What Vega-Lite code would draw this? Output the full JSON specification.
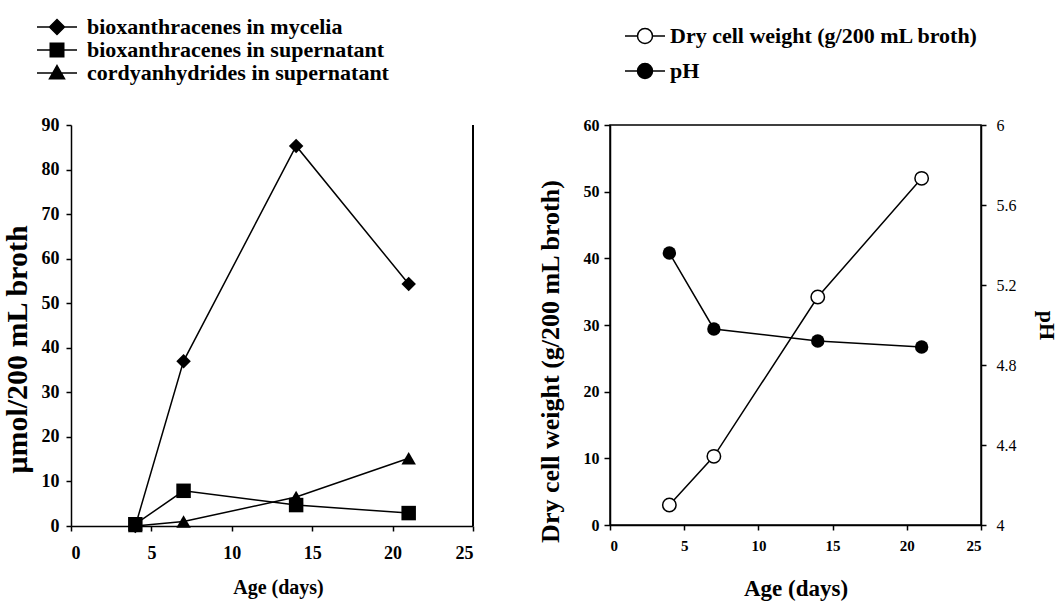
{
  "$schema": "https://vega.github.io/schema/vega-lite/v6.json",
  "background": "white",
  "padding": {"left": 2, "top": 16, "right": 0, "bottom": 0},
  "config": {
    "font": "Liberation Serif",
    "view": {"stroke": null},
    "axis": {
      "domainColor": "black", "domainWidth": 1.5, "tickColor": "black", "tickWidth": 1.5,
      "labelColor": "black", "titleColor": "black", "labelFontWeight": "bold", "titleFontWeight": "bold",
      "labelFont": "Liberation Serif", "titleFont": "Liberation Serif", "grid": false
    },
    "legend": {"labelFont": "Liberation Serif", "labelFontWeight": "bold", "labelColor": "black"}
  },
  "spacing": 62,
  "hconcat": [
    {
      "width": 402,
      "height": 401,
      "data": {"values": [
        {"day": 4, "series": "bioxanthracenes in mycelia", "value": 0},
        {"day": 7, "series": "bioxanthracenes in mycelia", "value": 37},
        {"day": 14, "series": "bioxanthracenes in mycelia", "value": 85.3},
        {"day": 21, "series": "bioxanthracenes in mycelia", "value": 54.3},
        {"day": 4, "series": "bioxanthracenes in supernatant", "value": 0.4},
        {"day": 7, "series": "bioxanthracenes in supernatant", "value": 7.9},
        {"day": 14, "series": "bioxanthracenes in supernatant", "value": 4.7},
        {"day": 21, "series": "bioxanthracenes in supernatant", "value": 2.9},
        {"day": 4, "series": "cordyanhydrides in supernatant", "value": 0},
        {"day": 7, "series": "cordyanhydrides in supernatant", "value": 1.0},
        {"day": 14, "series": "cordyanhydrides in supernatant", "value": 6.5},
        {"day": 21, "series": "cordyanhydrides in supernatant", "value": 15.2}
      ]},
      "encoding": {
        "x": {"field": "day", "type": "quantitative", "scale": {"domain": [0, 25], "nice": false},
          "axis": {"values": [0, 5, 10, 15, 20, 25], "title": "Age (days)", "labelFontSize": 18, "titleFontSize": 20, "tickSize": 5, "labelPadding": 13, "titlePadding": 15, "titleX": 207}},
        "y": {"field": "value", "type": "quantitative", "scale": {"domain": [0, 90], "nice": false},
          "axis": {"values": [0, 10, 20, 30, 40, 50, 60, 70, 80, 90], "title": "μmol/200 mL broth", "labelFontSize": 18, "titleFontSize": 30, "tickSize": 5, "labelPadding": 7, "titlePadding": 9, "titleY": 224}}
      },
      "layer": [
        {"mark": {"type": "rule", "color": "black", "strokeWidth": 1.5}, "encoding": {"x": {"datum": 25}, "y": null}},
        {"mark": {"type": "line", "color": "black", "strokeWidth": 1.5}, "encoding": {"detail": {"field": "series"}}},
        {"mark": {"type": "point", "filled": true, "color": "black", "opacity": 1, "size": 210},
          "encoding": {"shape": {"field": "series", "scale": {"domain": ["bioxanthracenes in mycelia", "bioxanthracenes in supernatant", "cordyanhydrides in supernatant"], "range": ["diamond", "square", "triangle-up"]}, "legend": null}}},
        {"mark": {"type": "point", "filled": true, "color": "black", "opacity": 0, "stroke": "black"},
          "encoding": {"shape": {"field": "series",
            "scale": {"domain": ["bioxanthracenes in mycelia", "bioxanthracenes in supernatant", "cordyanhydrides in supernatant"],
              "range": ["M-2.67,0H2.67M-1,0L0,-1L1,0L0,1Z", "M-2.67,0H2.67M-0.9,-0.9H0.9V0.9H-0.9Z", "M-2.67,0H2.67M0,-1L1,0.75L-1,0.75Z"]},
            "legend": {"orient": "none", "legendX": -25, "legendY": -109, "title": null, "padding": 0, "symbolSize": 225,
              "labelFontSize": 22, "labelOffset": 19, "rowPadding": 1, "symbolOpacity": 1, "symbolStrokeWidth": 1.5,
              "symbolStrokeColor": "black", "symbolFillColor": "black", "labelLimit": 500,
              "encoding": {"symbols": {"opacity": {"value": 1}, "fill": {"value": "black"}, "stroke": {"value": "black"}, "strokeWidth": {"value": 1.5}}}}}}}
      ],
      "resolve": {"scale": {"shape": "independent"}}
    },
    {
      "width": 371,
      "height": 400,
      "view": {"stroke": "black", "strokeWidth": 1.5},
      "data": {"values": [
        {"day": 4, "series": "Dry cell weight (g/200 mL broth)", "value": 3.0},
        {"day": 7, "series": "Dry cell weight (g/200 mL broth)", "value": 10.3},
        {"day": 14, "series": "Dry cell weight (g/200 mL broth)", "value": 34.2},
        {"day": 21, "series": "Dry cell weight (g/200 mL broth)", "value": 52.0},
        {"day": 4, "series": "pH", "value": 5.36},
        {"day": 7, "series": "pH", "value": 4.98},
        {"day": 14, "series": "pH", "value": 4.92},
        {"day": 21, "series": "pH", "value": 4.89}
      ]},
      "encoding": {
        "x": {"field": "day", "type": "quantitative", "scale": {"domain": [0, 25], "nice": false},
          "axis": {"values": [0, 5, 10, 15, 20, 25], "title": "Age (days)", "labelFontSize": 15, "titleFontSize": 23, "tickSize": 5, "labelPadding": 8, "titlePadding": 24}}
      },
      "layer": [
        {
          "transform": [{"filter": "datum.series === 'Dry cell weight (g/200 mL broth)'"}],
          "encoding": {"y": {"field": "value", "type": "quantitative", "scale": {"domain": [0, 60], "nice": false},
            "axis": {"orient": "left", "values": [0, 10, 20, 30, 40, 50, 60], "title": "Dry cell weight (g/200 mL broth)", "labelFontSize": 16, "titleFontSize": 26, "tickSize": 6, "labelPadding": 5, "titlePadding": 20, "titleY": 236}}},
          "layer": [
            {"mark": {"type": "line", "color": "black", "strokeWidth": 1.5}},
            {"mark": {"type": "point", "shape": "circle", "filled": true, "fill": "white", "stroke": "black", "strokeWidth": 1.5, "opacity": 1, "size": 180}}
          ]
        },
        {
          "transform": [{"filter": "datum.series === 'pH'"}],
          "encoding": {"y": {"field": "value", "type": "quantitative", "scale": {"domain": [4, 6], "nice": false},
            "axis": {"orient": "right", "values": [4, 4.4, 4.8, 5.2, 5.6, 6], "format": "~g", "title": "pH", "labelFontSize": 16, "labelFontWeight": "normal", "titleFontSize": 22, "tickSize": 5, "labelPadding": 10, "titlePadding": 18}}},
          "layer": [
            {"mark": {"type": "line", "color": "black", "strokeWidth": 1.5}},
            {"mark": {"type": "point", "shape": "circle", "filled": true, "color": "black", "opacity": 1, "size": 180}}
          ]
        },
        {
          "mark": {"type": "point", "filled": true, "opacity": 0, "stroke": "black"},
          "encoding": {
            "y": {"field": "value", "type": "quantitative", "axis": null},
            "shape": {"field": "series",
              "scale": {"domain": ["Dry cell weight (g/200 mL broth)", "pH"],
                "range": ["M-2.67,0H-1M1,0H2.67M-1,0A1,1,0,1,0,1,0A1,1,0,1,0,-1,0Z", "M-2.67,0H2.67M-1,0A1,1,0,1,0,1,0A1,1,0,1,0,-1,0Z"]},
              "legend": {"orient": "none", "legendX": 24, "legendY": -100, "title": null, "padding": 0, "symbolSize": 225,
                "labelFontSize": 22, "labelOffset": 14, "rowPadding": 13, "symbolOpacity": 1, "symbolStrokeWidth": 1.5,
                "symbolStrokeColor": "black", "labelLimit": 500,
                "encoding": {"symbols": {"opacity": {"value": 1}, "stroke": {"value": "black"}, "strokeWidth": {"value": 1.5}}}}},
            "fill": {"field": "series",
              "scale": {"domain": ["Dry cell weight (g/200 mL broth)", "pH"], "range": ["white", "black"]},
              "legend": {"orient": "none", "legendX": 24, "legendY": -100, "title": null, "padding": 0, "symbolSize": 225,
                "labelFontSize": 22, "labelOffset": 14, "rowPadding": 13, "symbolOpacity": 1, "symbolStrokeWidth": 1.5,
                "symbolStrokeColor": "black", "labelLimit": 500,
                "encoding": {"symbols": {"opacity": {"value": 1}, "stroke": {"value": "black"}, "strokeWidth": {"value": 1.5}}}}}
          }
        }
      ],
      "resolve": {"scale": {"y": "independent", "shape": "independent", "fill": "independent"}}
    }
  ]
}
